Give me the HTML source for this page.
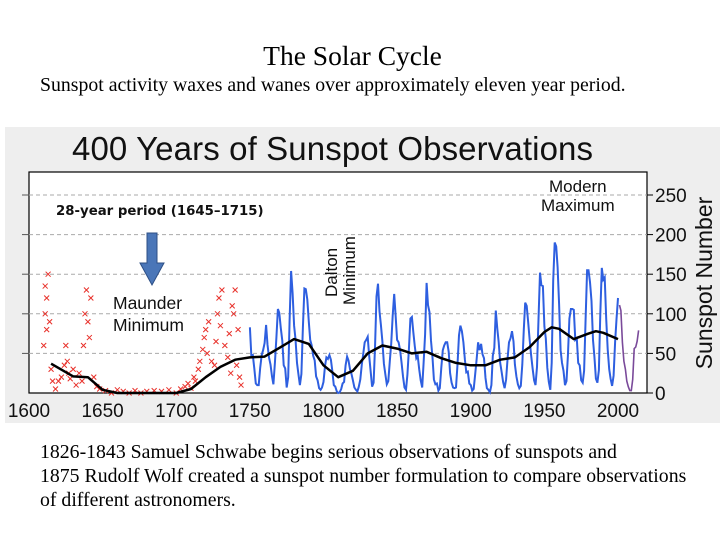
<!DOCTYPE html>
<html><head><meta charset="utf-8"><style>
body{margin:0;width:720px;height:540px;background:#fff;overflow:hidden;position:relative;font-family:"Liberation Serif",serif}
.t{position:absolute;white-space:nowrap;color:#000}
</style></head><body>
<div class="t" style="left:0;width:705px;text-align:center;top:40px;font-size:27.5px">The Solar Cycle</div>
<div class="t" style="left:40px;top:74px;font-size:19.8px">Sunspot activity waxes and wanes over approximately eleven year period.</div>
<div class="t" style="left:40px;top:440px;font-size:19.8px;line-height:24px;white-space:normal;width:680px">1826-1843 Samuel Schwabe begins serious observations of sunspots and<br>1875 Rudolf Wolf created a sunspot number formulation to compare observations<br>of different astronomers.</div>
<svg id="chart" style="position:absolute;left:0;top:0" width="720" height="540" font-family="Liberation Sans, sans-serif"></svg>
<script>
const blueYears0=1750;
const blueValues=[83,48,48,31,12,10,10,32,48,54,63,86,61,45,36,21,11,38,70,106,101,82,66,35,31,7,20,92,154,126,85,68,38,23,10,24,83,132,131,118,90,67,60,47,41,21,16,6,4,7,14,34,45,43,48,42,28,10,8,2,0,1,5,12,14,35,46,41,30,24,16,7,4,2,8,17,36,50,64,67,71,48,28,8,13,57,122,138,103,86,65,37,24,11,15,40,62,98,125,96,67,64,54,39,21,7,4,23,55,94,96,77,59,44,47,30,16,7,38,74,139,111,102,66,45,17,11,12,3,6,32,54,60,64,64,52,25,13,7,6,7,36,73,85,78,64,42,26,27,12,10,3,5,24,42,64,54,62,49,44,19,6,4,1,10,47,57,104,81,64,38,26,14,6,17,44,64,69,78,65,36,21,11,6,9,36,80,114,110,89,68,48,31,16,10,33,93,152,136,135,84,69,32,14,4,38,142,190,185,159,112,54,38,28,10,15,47,94,106,106,105,67,69,38,35,16,13,28,93,155,155,140,116,67,46,18,13,29,100,158,143,146,94,55,30,18,9,22,64,93,120];
const purpleYears0=2001;
const purpleValues=[111,104,64,40,30,15,8,3,3,17,56,58,65,79];
const trendYears=[1615,1630,1640,1650,1660,1700,1710,1720,1730,1740,1750,1760,1770,1780,1790,1800,1810,1820,1830,1840,1850,1860,1870,1880,1890,1900,1910,1920,1930,1940,1950,1955,1960,1970,1980,1985,1990,2000];
const trendValues=[37,21,20,4,0,0,5,20,33,42,45,46,57,68,62,35,20,28,50,60,56,50,52,44,38,35,35,42,45,58,77,83,81,68,75,78,76,68];
const crossYears=[1610,1611,1611,1612,1612,1613,1614,1615,1616,1618,1620,1622,1624,1625,1626,1627,1628,1630,1632,1634,1636,1637,1638,1639,1640,1641,1642,1644,1646,1648,1652,1656,1660,1664,1668,1672,1676,1680,1685,1690,1695,1700,1703,1706,1708,1710,1712,1713,1715,1716,1718,1719,1720,1721,1722,1724,1726,1727,1728,1729,1730,1731,1733,1735,1736,1737,1738,1739,1740,1741,1742,1743,1744];
const crossValues=[60,135,100,120,80,150,90,30,15,5,15,20,35,60,40,25,18,30,10,25,15,60,100,130,90,70,120,20,8,5,3,0,4,2,0,3,0,2,3,2,4,0,5,8,12,6,20,15,30,40,55,70,80,50,90,40,35,65,100,120,85,130,60,45,75,25,110,100,130,35,80,20,10];
const titles=["400 Years of Sunspot Observations"];
const yTicks=[0,50,100,150,200,250];
const xTicks=[1600,1650,1700,1750,1800,1850,1900,1950,2000];
const svg=document.getElementById('chart');const NS='http://www.w3.org/2000/svg';
const X0=29,X1=647,Y0=393,YT=172;
function xs(y){return 29+(y-1600)*(618-29)/400;}
function ys(v){return 393-v*(393-195)/250;}
function mk(t,a,p){const e=document.createElementNS(NS,t);for(const k in a)e.setAttribute(k,a[k]);(p||svg).appendChild(e);return e;}
const bg=mk('rect',{x:5,y:127,width:715,height:296,fill:'#eeeeee'});


const pa=mk('rect',{x:X0,y:YT,width:X1-X0,height:Y0-YT,fill:'#fff',stroke:'#000','stroke-width':1.2});


const tt=mk('text',{x:72,y:160,'font-size':33,fill:'#111',textLength:521});tt.textContent=titles[0];


yTicks.forEach(v=>{const y=ys(v);
 if(v>0){const g=mk('line',{x1:X0,x2:X1,y1:y,y2:y,stroke:'#aaa','stroke-dasharray':'4,3','stroke-width':1});
 
 
 mk('line',{x1:22,x2:X0,y1:y,y2:y,stroke:'#555'});}
 mk('line',{x1:X1,x2:X1+6,y1:y,y2:y,stroke:'#000'});
 const l=mk('text',{x:655,y:y+7,'font-size':19,fill:'#111'});l.textContent=v;
 
 });
xTicks.forEach(v=>{const l=mk('text',{x:xs(v),y:417,'font-size':19,'text-anchor':'middle',fill:'#111'});l.textContent=v;
 
 });
const yt=mk('text',{x:0,y:0,'font-size':23,'text-anchor':'middle',fill:'#111',transform:'translate(712,283) rotate(-90)'});yt.textContent='Sunspot Number';


crossYears.forEach((yr,i)=>{const cx=xs(yr),cy=ys(crossValues[i]);
 const c=mk('path',{d:`M${cx-2.5},${cy-2.5}L${cx+2.5},${cy+2.5}M${cx-2.5},${cy+2.5}L${cx+2.5},${cy-2.5}`,stroke:'#e8302a','stroke-width':1});
 
 });
function poly(y0,vals,col,w,name){const p=vals.map((v,i)=>xs(y0+i).toFixed(1)+','+ys(v).toFixed(1)).join(' ');
 const e=mk('polyline',{points:p,fill:'none',stroke:col,'stroke-width':w});
 
 }
poly(blueYears0,blueValues,'#2e5fe0',2,'sunspot-series-line');
poly(purpleYears0,purpleValues,'#7a4a9a',1.6,'recent-sunspot-line');
const tp=trendYears.map((yr,i)=>xs(yr).toFixed(1)+','+ys(trendValues[i]).toFixed(1)).join(' ');
const tr=mk('polyline',{points:tp,fill:'none',stroke:'#000','stroke-width':2.5,'stroke-linejoin':'round'});


function lab(txt,x,y,sz,name,extra){const e=mk('text',Object.assign({x:x,y:y,'font-size':sz,fill:'#111'},extra||{}));e.textContent=txt;
 
 return e;}
lab('28-year period (1645–1715)',56,215,13.3,'period-annotation',{'font-weight':'bold','font-family':'DejaVu Sans, sans-serif'});
const ar=mk('path',{d:'M147,233h10v30h7l-12,22l-12,-22h7z',fill:'#4a76b8',stroke:'#2d4f85','stroke-width':1});


lab('Maunder',113,309,17.5,'maunder-label');
lab('Minimum',113,331,17.5,'maunder-label-2');
lab('Dalton',0,0,17,'dalton-label',{transform:'translate(337,297) rotate(-90)'});
lab('Minimum',0,0,17,'dalton-label-2',{transform:'translate(355,305) rotate(-90)'});
lab('Modern',549,192,17,'modern-label');
lab('Maximum',541,211,17,'modern-label-2');
</script>
</body></html>
